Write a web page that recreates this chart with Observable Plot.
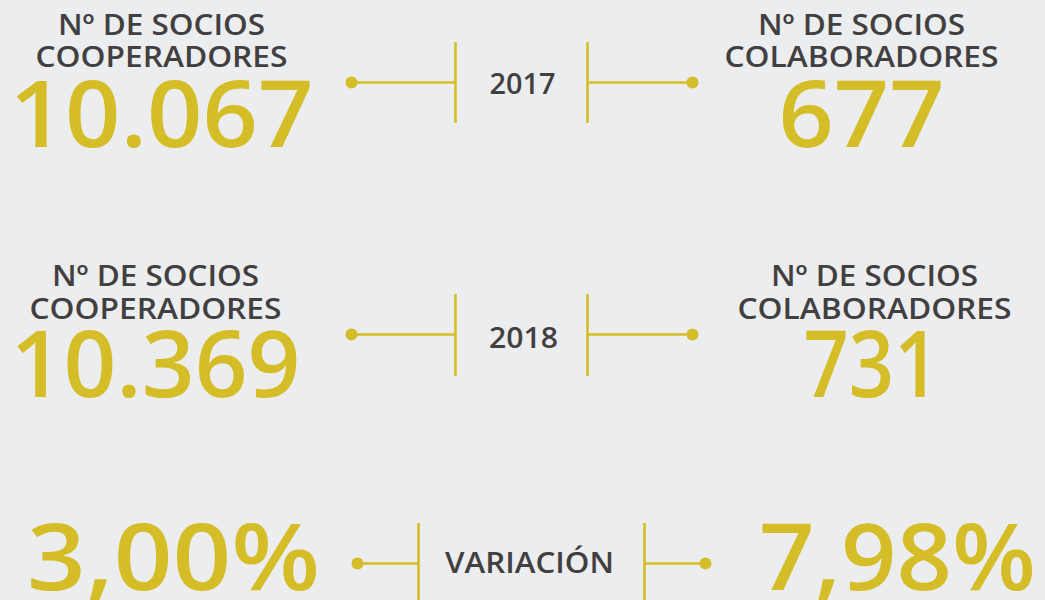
<!DOCTYPE html>
<html>
<head>
<meta charset="utf-8">
<script src="https://cdn.jsdelivr.net/npm/d3@7"></script>
<script src="https://cdn.jsdelivr.net/npm/@observablehq/plot@0.6"></script>
<style>
  html, body { margin: 0; padding: 0; background: #ECEDEF; }
  #chart svg { display: block; }
</style>
</head>
<body>
<div id="chart"></div>
<script>
// ---- data ----
const periodLabels = ["2017", "2018", "VARIACIÓN"];
const cooperadores = [10067, 10369];
const colaboradores = [677, 731];
const variacion = [3.00, 7.98]; // % cooperadores, % colaboradores
const leftLabel = ["Nº DE SOCIOS", "COOPERADORES"];
const rightLabel = ["Nº DE SOCIOS", "COLABORADORES"];

// ---- styles ----
const GOLD = "#D5BD28";
const DARK = "#423F40";
const FONT = "'Open Sans', 'Noto Sans', sans-serif";

// ---- layout (pixel space) ----
const layout = [
  {labelY: [25, 57], numY: 117, lineY: 82, top: 42, bottom: 123, midX: 522, midY: 84,
   leftX: 161, rightX: 861, rightLabelX: 861, dotL: 351, vL: 455, vR: 587, dotR: 692},
  {labelY: [276, 309], numY: 367, lineY: 334, top: 294, bottom: 376, midX: 523, midY: 338,
   leftX: 155, rightX: 871, rightLabelX: 874, dotL: 351, vL: 455, vR: 587, dotR: 692},
  {labelY: null, numY: 560, lineY: 563, top: 523, bottom: 600, midX: 529, midY: 563,
   leftX: 173, rightX: 897, rightLabelX: null, dotL: 357, vL: 418, vR: 644, dotR: 705}
];

// target rendered widths (style)
const widths = {
  "Nº DE SOCIOS": 207, "COOPERADORES": 252, "COLABORADORES": 274,
  "10.067": 304, "10.369": 290, "677": 166, "731": 136, "3,00%": 293, "7,98%": 277,
  "2017": 66, "2018": 69, "VARIACIÓN": 169
};

const es = d3.formatLocale({decimal: ",", thousands: ".", grouping: [3], currency: ["", "€"]});
const fmtInt = es.format(",d");
const fmtPct = v => es.format(".2f")(v) + "%";

const rows = periodLabels.map((p, i) => ({
  mid: p,
  left: i < 2 ? fmtInt(cooperadores[i]) : fmtPct(variacion[0]),
  right: i < 2 ? fmtInt(colaboradores[i]) : fmtPct(variacion[1]),
  ...layout[i]
}));

const labelData = [];
rows.forEach(r => {
  if (!r.labelY) return;
  leftLabel.forEach((t, j) => labelData.push({text: t, x: r.leftX, y: r.labelY[j]}));
  rightLabel.forEach((t, j) => labelData.push({text: t, x: r.rightLabelX, y: r.labelY[j]}));
});

const chart = Plot.plot({
  width: 1045,
  height: 600,
  margin: 0,
  x: {domain: [0, 1045], range: [0, 1045], axis: null},
  y: {domain: [0, 600], range: [0, 600], axis: null},
  style: {background: "#ECEDEF", fontFamily: FONT},
  marks: [
    Plot.link(rows, {x1: "dotL", x2: "vL", y1: "lineY", y2: "lineY", stroke: GOLD, strokeWidth: 2.6}),
    Plot.link(rows, {x1: "vR", x2: "dotR", y1: "lineY", y2: "lineY", stroke: GOLD, strokeWidth: 2.6}),
    Plot.ruleX(rows, {x: "vL", y1: "top", y2: "bottom", stroke: GOLD, strokeWidth: 2.6}),
    Plot.ruleX(rows, {x: "vR", y1: "top", y2: "bottom", stroke: GOLD, strokeWidth: 2.6}),
    Plot.dot(rows, {x: "dotL", y: "lineY", r: 6, fill: GOLD}),
    Plot.dot(rows, {x: "dotR", y: "lineY", r: 6, fill: GOLD}),
    Plot.text(rows, {x: "midX", y: "midY", text: "mid", fill: DARK, fontSize: 29.5, fontWeight: 600}),
    Plot.text(labelData, {x: "x", y: "y", text: "text", fill: DARK, fontSize: 29, fontWeight: 600}),
    Plot.text(rows, {x: "leftX", y: "numY", text: "left", fill: GOLD, fontSize: 92, fontWeight: 600}),
    Plot.text(rows, {x: "rightX", y: "numY", text: "right", fill: GOLD, fontSize: 92, fontWeight: 600})
  ]
});

d3.select(chart).selectAll("text").each(function() {
  const t = this.textContent;
  if (widths[t]) {
    this.setAttribute("textLength", widths[t]);
    this.setAttribute("lengthAdjust", "spacingAndGlyphs");
  }
});

document.getElementById("chart").appendChild(chart);
</script>
</body>
</html>
